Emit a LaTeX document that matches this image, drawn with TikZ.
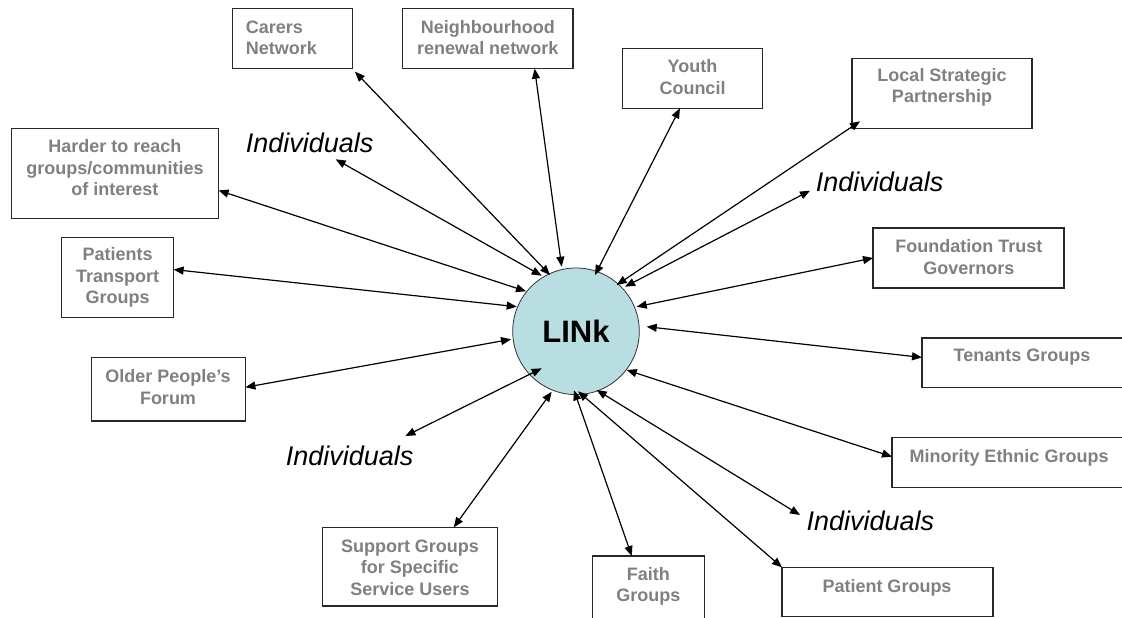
\documentclass[tikz,border=0pt]{standalone}
\usepackage{fontspec}
\setmainfont{Liberation Sans}
\usetikzlibrary{arrows.meta,calc}
\definecolor{boxtext}{RGB}{128,128,128}
\definecolor{linkfill}{RGB}{184,222,226}
\definecolor{boxline}{RGB}{40,40,40}
\begin{document}
\begin{tikzpicture}[x=1pt,y=-1pt,
  box/.style={draw=boxline, line width=1.2pt, inner sep=0pt, outer sep=0pt},
  lbl/.style={text=boxtext, font=\fontsize{18}{21.5}\selectfont\bfseries, align=center, inner sep=0pt},
  indiv/.style={font=\fontsize{27}{32}\selectfont\itshape, inner sep=0pt, anchor=base west},
  linkc/.style={circle, draw=black!80, line width=0.8pt, fill=linkfill, minimum size=126.6pt, inner sep=0pt, font=\fontsize{31}{36}\selectfont\bfseries},
  conn/.style={line width=1.2pt, {Triangle[length=10pt,width=8pt]}-{Triangle[length=10pt,width=8pt]}}
]
\useasboundingbox (0,0) rectangle (1122,618);
\clip (0,0) rectangle (1122,618);

% boxes
\node[box, minimum width=120pt, minimum height=60pt] (carers) at (292.5,38.7) {};
\node[box, minimum width=170.5pt, minimum height=60pt] (nbr) at (487.75,38.7) {};
\node[box, minimum width=140pt, minimum height=60pt] (youth) at (692.5,78.3) {};
\node[box, minimum width=180pt, minimum height=70pt] (local) at (942,93.3) {};
\node[box, minimum width=206.8pt, minimum height=90pt] (harder) at (115.2,173.3) {};
\node[box, minimum width=111.8pt, minimum height=79.6pt] (patT) at (117.7,277.5) {};
\node[box, minimum width=191pt, minimum height=60pt] (found) at (968.5,258) {};
\node[box, minimum width=153.6pt, minimum height=63.7pt] (older) at (168.6,389.2) {};
\node[box, minimum width=202pt, minimum height=49.7pt] (tenants) at (1023,362.9) {};
\node[box, minimum width=234pt, minimum height=50pt] (minority) at (1009,462.7) {};
\node[box, minimum width=175pt, minimum height=78.7pt] (support) at (410,566.7) {};
\node[box, minimum width=111.6pt, minimum height=74pt] (faith) at (648.5,593) {};
\node[box, minimum width=211pt, minimum height=49.4pt] (patient) at (887.5,592) {};

% box texts
\node[lbl, align=left, anchor=west] (carersT) at (245.7,37.7) {Carers\\Network};
\node[lbl] (nbrT) at (487.75,37.7) {Neighbourhood\\renewal network};
\node[lbl] (youthT) at (692.5,77) {Youth\\Council};
\node[lbl] (localT) at (942,87.3) {Local Strategic\\Partnership};
\node[lbl] (harderT) at (115,168) {Harder to reach\\groups/communities\\of interest};
\node[lbl] (patTT) at (117.7,277.7) {Patients\\Transport\\Groups};
\node[lbl] (foundT) at (968.8,257.2) {Foundation Trust\\Governors};
\node[lbl] (olderT) at (168,387) {Older People’s\\Forum};
\node[lbl] (tenantsT) at (1022,357.5) {Tenants Groups};
\node[lbl] (minorityT) at (1009,457.5) {Minority Ethnic Groups};
\node[lbl] (supportT) at (410,567.3) {Support Groups\\for Specific\\Service Users};
\node[lbl] (faithT) at (648.3,586.3) {Faith\\Groups};
\node[lbl] (patientT) at (887,587.5) {Patient Groups};

% individuals
\node[indiv] (indUL) at (245.7,152.7) {Individuals};
\node[indiv] (indUR) at (815.7,191.7) {Individuals};
\node[indiv] (indLL) at (285.7,465.7) {Individuals};
\node[indiv] (indLR) at (806.4,530) {Individuals};

% centre
\node[linkc] (link) at (576,331.3) {LINk};

% connectors
\draw[conn] ($(carers.south east)+(2.5,3)$) -- ($(link.center)+(-26,-56.3)$);
\draw[conn] ($(nbr.south west)!0.775!(nbr.south east)$) -- ($(link.center)+(-14.3,-64.6)$);
\draw[conn] ($(youth.south west)!0.41!(youth.south east)$) -- ($(link.center)+(19,-56.3)$);
\draw[conn] ($(local.south west)+(8,-7)$) -- ($(link.center)+(40.7,-46.3)$);
\draw[conn] ($(indUR.base west)+(-5.7,-1)$) -- ($(link.center)+(49,-44.6)$);
\draw[conn] ($(harder.north east)!0.69!(harder.south east)$) -- ($(link.center)+(-50,-40)$);
\draw[conn] ($(indUL.base west)+(90,6.6)$) -- ($(link.center)+(-34.3,-55.6)$);
\draw[conn] ($(patT.north east)!0.40!(patT.south east)$) -- ($(link.center)+(-59.3,-24.6)$);
\draw[conn] ($(older.north east)!0.47!(older.south east)$) -- ($(link.center)+(-65,8)$);
\draw[conn] ($(indLL.base west)+(119.7,-29.7)$) -- ($(link.center)+(-34.3,37)$);
\draw[conn] ($(support.north west)!0.75!(support.north east)$) -- ($(link.center)+(-24.3,60.4)$);
\draw[conn] ($(faith.north west)!0.35!(faith.north east)$) -- ($(link.center)+(-2,59)$);
\draw[conn] (patient.north west) -- ($(link.center)+(2,60)$);
\draw[conn] ($(indLR.base west)+(-6.4,-15)$) -- ($(link.center)+(20.7,58.7)$);
\draw[conn] ($(minority.north west)!0.38!(minority.south west)$) -- ($(link.center)+(50.7,38.7)$);
\draw[conn] ($(tenants.north west)!0.39!(tenants.south west)$) -- ($(link.center)+(70.7,-4.6)$);
\draw[conn] (found.west) -- ($(link.center)+(60.7,-24.6)$);
\end{tikzpicture}
\end{document}
